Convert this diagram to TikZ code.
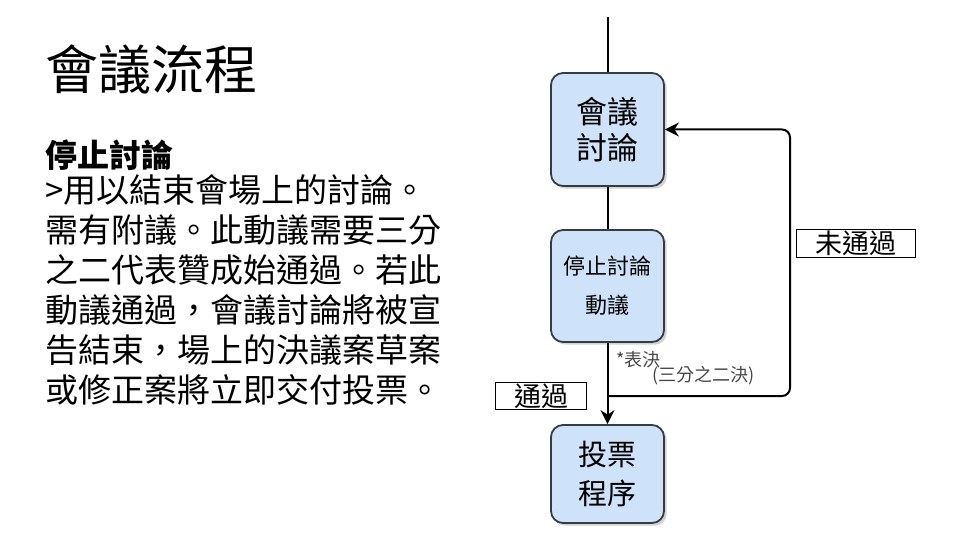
\documentclass[tikz,border=0pt]{standalone}
\usepackage{fontspec}
\setmainfont{Noto Sans CJK TC}
\usetikzlibrary{positioning,shadows,arrows.meta}
\definecolor{boxfill}{RGB}{206,227,249}
\definecolor{boxline}{RGB}{55,60,68}
\definecolor{notegray}{RGB}{70,70,70}
\tikzset{proc/.style={rounded corners=12pt,draw=boxline,fill=boxfill,line width=1.8pt,
		minimum width=113pt,align=center,drop shadow={opacity=0.35}},
	 tag/.style={draw,fill=white,line width=0.8pt,inner sep=0pt,font=\fontsize{27}{27}\selectfont},
	 flow/.style={line width=2pt,black},
	 note/.style={font=\fontsize{18}{18}\selectfont,text=notegray,inner sep=0pt}
	 }
\begin{document}
\begin{tikzpicture}[x=1pt,y=-1pt] % meeting procedure: closing debate
	\useasboundingbox (0,0) rectangle (960,540);
	% left panel
	\node[anchor=west,inner sep=0pt,font=\fontsize{53}{53}\selectfont] (title) at (45,69) {會議流程};
	\node[anchor=west,inner sep=0pt,font=\fontsize{32}{32}\selectfont\bfseries] (head) at (45,155) {停止討論};
	\node[anchor=north west,inner sep=0pt,align=left,font=\fontsize{33}{40}\selectfont] (body) at (45,174)
		{>用以結束會場上的討論。\\需有附議。此動議需要三分\\之二代表贊成始通過。若此\\動議通過，會議討論將被宣\\告結束，場上的決議案草案\\或修正案將立即交付投票。};
	% flow chart
	\node[proc,minimum height=113pt,font=\fontsize{31}{36}\selectfont] (m1) at (607.5,129.5) {會議\\討論};
	\node[proc,minimum height=112pt,font=\fontsize{22}{39}\selectfont] (m2) at (607.5,286) {停止討論\\動議};
	\node[proc,minimum height=98pt,font=\fontsize{29}{39}\selectfont] (m3) at (607.5,474) {投票\\程序};
	\coordinate (start) at (607.5,17);
	\coordinate (split) at (607.5,396);
	\coordinate (turn) at (790,396);
	\draw[flow] (start) -- (m1);
	\draw[flow] (m1) -- (m2);
	\draw[flow,-{Stealth[length=14pt,width=14pt]}] (m2) -- (m3);
	\draw[flow,rounded corners=8pt,-{Stealth[length=14pt,width=14pt]}] (split) -- (turn) |- (m1.east);
	\node[tag,minimum width=119pt,minimum height=28pt] (fail) at (856,243) {未通過};
	\node[tag,minimum width=91pt,minimum height=27pt] (pass) at (541,396) {通過};
	\node[note,anchor=west] (vote) at (616,360) {*表決};
	\node[note,anchor=west] (rule) at (652,376) {(三分之二決)};
\end{tikzpicture}
\end{document}
